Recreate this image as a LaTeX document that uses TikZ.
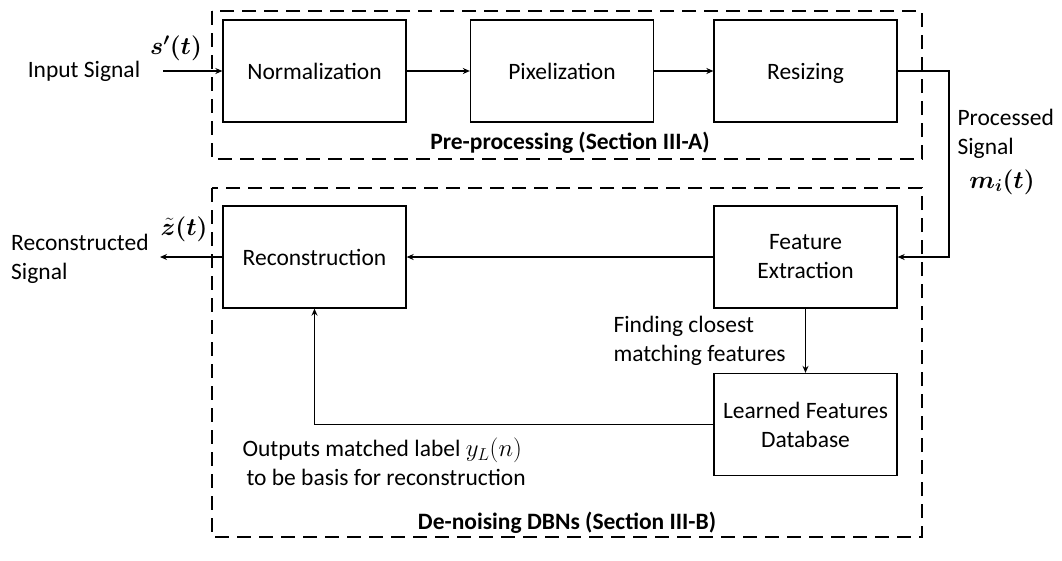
\documentclass[tikz,border=0pt]{standalone}
\usepackage{fontspec}
\setmainfont{Carlito}
\usepackage{bm}
\usetikzlibrary{arrows.meta}
\begin{document}
\begin{tikzpicture}[x=1pt,y=-1pt,
    font=\fontsize{23.5}{29}\selectfont,
    >={Stealth[length=7pt,width=6pt]},
    block/.style={draw,line width=1.3pt,minimum width=183pt,minimum height=102pt,inner sep=0pt,align=center},
    oneline/.style={text height=17pt,text depth=0pt},
    group/.style={draw,line width=2.8pt,dash pattern=on 14pt off 8pt},
    link/.style={line width=1.3pt}]
    \useasboundingbox (0,0) rectangle (1062,560);
    % dashed groups
    \draw[group] (212,11) rectangle (922,159);
    \draw[group] (212,188) rectangle (922,537);
    \node[font=\fontsize{23.5}{29}\selectfont\bfseries](pre) at (570,143) {Pre-processing (Section III-A)};
    \node[font=\fontsize{23.5}{29}\selectfont\bfseries](dbn) at (567,523) {De-noising DBNs (Section III-B)};
    % blocks
    \node[block,oneline](norm) at (314.5,71) {Normalization};
    \node[block,oneline](pix) at (562,71) {Pixelization};
    \node[block,oneline](resz) at (805.5,71) {Resizing};
    \node[block](feat) at (805.5,257) {Feature\\Extraction};
    \node[block,oneline](recon) at (314.5,257) {Reconstruction};
    \node[block](lfd) at (805.5,424.5) {Learned Features\\Database};
    % signals
    \node(insig) at (84,71) {Input Signal};
    \node(s) at (176,48) {$\bm{s'(t)}$};
    \coordinate (in) at (163,71);
    \node[anchor=west,align=left,inner sep=1pt](outsig) at (10,259) {Reconstructed\\Signal};
    \node[inner sep=1pt](z) at (184,229) {$\bm{\tilde{z}(t)}$};
    \coordinate (out) at (160,257);
    \node[anchor=west,align=left](procsig) at (954,134) {Processed\\Signal};
    \node(m) at (1002,182) {$\bm{m_i(t)}$};
    \coordinate (turn) at (949,71);
    \node[anchor=west,align=left](find) at (610,341) {Finding closest\\matching features};
    \node[anchor=west,align=left](outp) at (239,462) {Outputs matched label $y_L(n)$\\\hspace{4pt}to be basis for reconstruction};
    % connectors
    \draw[link,->] (in) -- (norm.west);
    \draw[link,->] (norm) -- (pix);
    \draw[link,->] (pix) -- (resz);
    \draw[link,->] (resz.east) -- (turn) |- (feat.east);
    \draw[link,->] (feat) -- (recon);
    \draw[link,->] (recon.west) -- (out);
    \draw[link,->] (feat) -- (lfd);
    \draw[link,->] (lfd.west) -| (recon.south);
\end{tikzpicture}
\end{document}
